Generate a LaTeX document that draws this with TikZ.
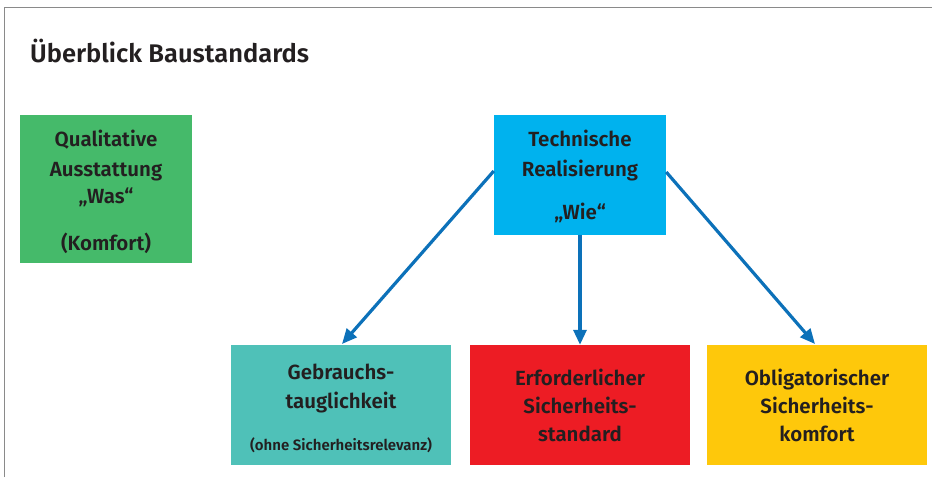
\documentclass[tikz,border=0pt]{standalone}
\usepackage{fontspec}
\setmainfont{Fira Sans}[BoldFont={Fira Sans SemiBold}]
\usetikzlibrary{arrows.meta}
\definecolor{textdark}{HTML}{231F20}
\definecolor{framegray}{HTML}{8A8A8A}
\definecolor{boxgreen}{HTML}{45BA6A}
\definecolor{boxblue}{HTML}{00B2EE}
\definecolor{boxteal}{HTML}{4FC1B8}
\definecolor{boxred}{HTML}{ED1C24}
\definecolor{boxyellow}{HTML}{FEC80B}
\definecolor{arrowblue}{HTML}{0C71B9}
\tikzset{
  infobox/.style={fill=#1, draw=none, inner sep=0pt},
  % anchored at the baseline of the last line
  boxtext/.style={inner sep=0pt, align=center, text=textdark, anchor=base,
    font=\bfseries\fontsize{20.5}{28}\selectfont},
  flowarrow/.style={draw=arrowblue, line width=3.2pt,
    -{Triangle[length=15pt,width=13pt]}},
}
\begin{document}
\begin{tikzpicture}[x=1pt,y=-1pt]
  \useasboundingbox (0,0) rectangle (932,477);
  % outer frame: top and left edge only
  \draw[framegray, line width=1.5pt] (4.5,477) -- (4.5,7.5) -- (932,7.5);
  % heading
  \node[anchor=base west, text=textdark, font=\bfseries\fontsize{25.5}{30}\selectfont, inner sep=0pt]
    (title) at (30,62) {Überblick Baustandards};
  % coloured boxes
  \node[infobox=boxgreen, minimum width=172pt, minimum height=148pt] (was) at (106,189) {};
  \node[infobox=boxblue, minimum width=172pt, minimum height=120pt] (wie) at (580,175) {};
  \node[infobox=boxteal, minimum width=220pt, minimum height=120pt] (gebrauch) at (341,405) {};
  \node[infobox=boxred, minimum width=220pt, minimum height=120pt] (standard) at (580,405) {};
  \node[infobox=boxyellow, minimum width=220pt, minimum height=120pt] (komfort) at (817,405) {};
  % box labels
  \node[boxtext] (was-t) at (106,250)
    {Qualitative\\[2pt] Ausstattung\\[-1pt] „Was“\\[19pt] (Komfort)};
  \node[boxtext] (wie-t) at (580,219)
    {Technische\\[2pt] Realisierung\\[15pt] „Wie“};
  \node[boxtext] (gebrauch-t) at (341,450)
    {Gebrauchs-\\[1pt] tauglichkeit\\[14pt] {\fontsize{15}{18}\selectfont (ohne Sicherheitsrelevanz)}};
  \node[boxtext] (standard-t) at (580,441)
    {Erforderlicher\\ Sicherheits-\\ standard};
  \node[boxtext] (komfort-t) at (817,441)
    {Obligatorischer\\ Sicherheits-\\ komfort};
  % connectors
  \draw[flowarrow] ([yshift=4pt]wie.west) -- (342,344);
  \draw[flowarrow] (wie.south) -- (standard.north);
  \draw[flowarrow] ([yshift=3pt]wie.east) -- (815,344);
\end{tikzpicture}
\end{document}
